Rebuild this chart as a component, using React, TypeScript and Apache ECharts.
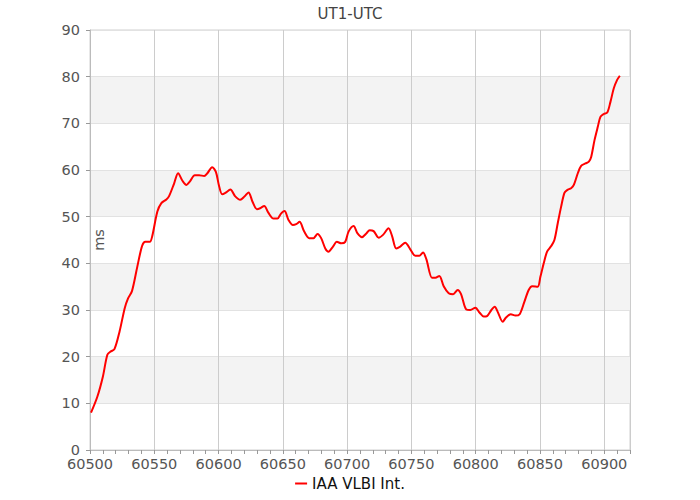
import React, { useEffect, useRef } from "react";
import * as echarts from "echarts";

const mjd = [
  60500.8, 60505.7, 60510, 60513.5, 60516, 60519, 60523, 60527, 60529.6, 60532.7,
  60536.8, 60540.5, 60543, 60546.5, 60548.3, 60552.4, 60555.5, 60559.4, 60561.5, 60565.4,
  60568.5, 60571.9, 60575, 60577.6, 60581.5, 60584.9, 60588.8, 60591.3, 60595, 60597.9,
  60600.2, 60602.8, 60605.3, 60609.2, 60612.8, 60616.8, 60620.1, 60623.3, 60626.4, 60629.8,
  60632.3, 60635.5, 60638.8, 60642.7, 60645.8, 60648.4, 60651.3, 60654.4, 60657.8, 60660.4,
  60663, 60666.6, 60670.5, 60673.8, 60677, 60679.8, 60683, 60685.5, 60689, 60692,
  60695.4, 60698.5, 60701.1, 60705, 60708.1, 60711.5, 60714.9, 60717.5, 60720.6, 60724.5,
  60727.9, 60732.2, 60734.9, 60738.2, 60741.3, 60745.2, 60749.1, 60753, 60756.1, 60759,
  60761.6, 60766, 60768.6, 60771.7, 60775.1, 60779, 60782.4, 60786, 60788.6, 60792.7,
  60795.8, 60799.7, 60803.1, 60806.2, 60808.8, 60812.2, 60814.8, 60817.1, 60821, 60823.6,
  60827.3, 60830.9, 60834.2, 60837.9, 60841.2, 60843.9, 60848.2, 60850.3, 60852.9, 60855.5,
  60858.7, 60861.2, 60863.8, 60866.4, 60869, 60871.1, 60874.2, 60876.3, 60879.4, 60882,
  60885.4, 60888, 60889.8, 60892.4, 60895, 60897, 60899.6, 60902.3, 60904.8, 60907.4,
  60910, 60912.1,
];

const ut1utc = [
  8.0, 11.4, 15.7, 20.4, 21.1, 21.6, 25.4, 30.4, 32.5, 34.1,
  39.3, 43.7, 44.6, 44.6, 45.7, 51.1, 52.9, 53.7, 54.4, 57.1,
  59.3, 57.7, 56.8, 57.5, 58.9, 58.9, 58.7, 59.3, 60.6, 59.6,
  56.8, 54.8, 55.1, 55.8, 54.4, 53.6, 54.3, 55.2, 53.2, 51.6,
  51.8, 52.3, 50.8, 49.6, 49.6, 50.6, 51.2, 49.3, 48.2, 48.4,
  48.9, 46.8, 45.4, 45.4, 46.3, 45.4, 43.2, 42.5, 43.6, 44.6,
  44.3, 44.6, 46.8, 48.0, 46.4, 45.6, 46.4, 47.1, 46.9, 45.5,
  46.1, 47.5, 45.9, 43.2, 43.6, 44.4, 43.0, 41.6, 41.6, 42.3,
  40.9, 36.9, 36.9, 37.3, 35.1, 33.6, 33.4, 34.3, 33.4, 30.1,
  30.0, 30.5, 29.4, 28.6, 28.7, 30.0, 30.7, 29.6, 27.5, 28.4,
  29.1, 28.8, 29.1, 31.8, 34.3, 35.1, 35.0, 37.1, 40.0, 42.5,
  43.7, 45.0, 48.6, 52.1, 55.1, 55.7, 56.1, 56.8, 59.3, 60.9,
  61.4, 61.8, 62.8, 66.4, 69.3, 71.4, 72.0, 72.3, 74.6, 77.5,
  79.3, 80.2,
];

const chartTitle = "UT1-UTC";
const seriesName = "IAA VLBI Int.";
const yAxisName = "ms";

export default function App() {
  const ref = useRef<HTMLDivElement>(null);
  useEffect(() => {
    if (!ref.current) return;
    const chart = echarts.init(ref.current, null, { renderer: "svg" });
    const font = "DejaVu Sans";
    chart.setOption({
      animation: false,
      backgroundColor: "#ffffff",
      title: {
        text: chartTitle,
        left: "center",
        top: 1,
        textStyle: { fontFamily: font, fontSize: 15, fontWeight: "normal", color: "#444" },
      },
      legend: {
        bottom: 4,
        left: "center",
        itemWidth: 12,
        itemHeight: 10,
        itemGap: 10,
        textStyle: { fontFamily: font, fontSize: 15, color: "#111" },
        data: [{ name: seriesName, icon: "path://M0,4 L12,4 L12,6 L0,6 Z" }],
      },
      grid: {
        left: 90,
        right: 70,
        top: 30,
        bottom: 50,
        show: true,
        borderColor: "#d0d0d0",
        borderWidth: 1,
        backgroundColor: "transparent",
      },
      xAxis: {
        type: "value",
        min: 60500,
        max: 60920,
        interval: 50,
        axisLine: { show: true, lineStyle: { color: "#bbb" } },
        axisTick: { show: true, length: 4, lineStyle: { color: "#999" } },
        minorTick: { show: true, splitNumber: 5, length: 4, lineStyle: { color: "#999" } },
        splitLine: { show: true, lineStyle: { color: "#ccc" } },
        axisLabel: {
          fontFamily: font,
          fontSize: 14.5,
          color: "#555",
          margin: 6,
          formatter: (v: number) => (v % 50 === 0 ? String(v) : ""),
        },
      },
      yAxis: {
        type: "value",
        min: 0,
        max: 90,
        interval: 10,
        name: yAxisName,
        nameLocation: "middle",
        nameGap: -16,
        nameMoveOverlap: false,
        nameTextStyle: { fontFamily: font, fontSize: 14.5, color: "#555" },
        axisLine: { show: true, lineStyle: { color: "#bbb" } },
        axisTick: { show: true, length: 4, lineStyle: { color: "#999" } },
        splitLine: { show: true, lineStyle: { color: "#e2e2e2" } },
        splitArea: { show: true, areaStyle: { color: ["rgba(255,255,255,0)", "#f3f3f3"] } },
        axisLabel: { fontFamily: font, fontSize: 14.5, color: "#555", margin: 10 },
      },
      series: [
        {
          name: seriesName,
          type: "line",
          data: mjd.map((m, i) => [m, ut1utc[i]]),
          showSymbol: false,
          symbol: "none",
          smooth: 0.3,
          lineStyle: { color: "#ff0000", width: 2 },
          itemStyle: { color: "#ff0000" },
        },
      ],
    });
    return () => chart.dispose();
  }, []);
  return (
    <div
      ref={ref}
      style={{ position: "absolute", left: 0, top: 0, width: 700, height: 500 }}
    />
  );
}
